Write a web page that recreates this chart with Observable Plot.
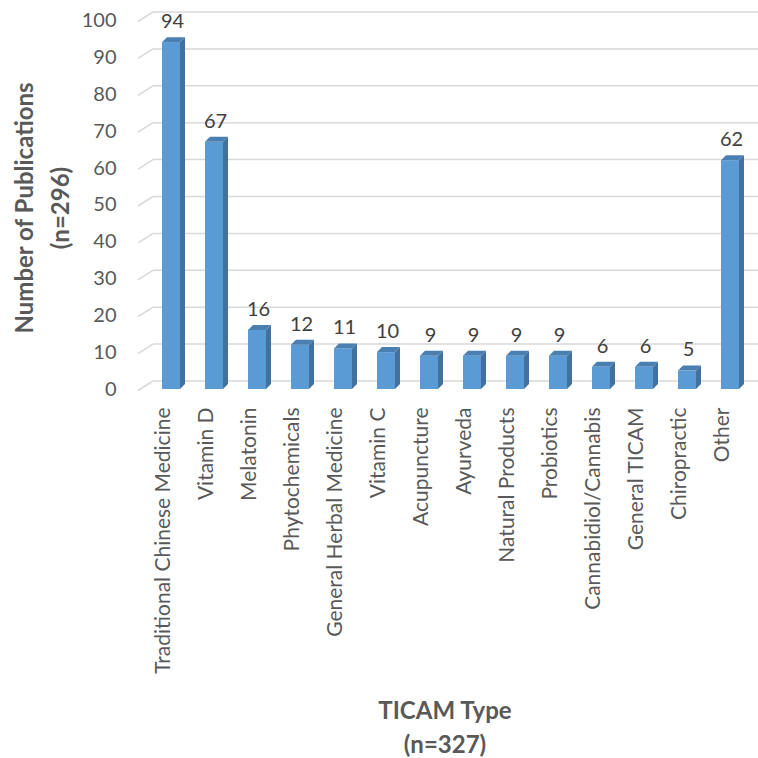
<!DOCTYPE html>
<html>
<head>
<meta charset="utf-8">
<script src="https://cdn.jsdelivr.net/npm/d3@7"></script>
<script src="https://cdn.jsdelivr.net/npm/@observablehq/plot@0.6"></script>
<style>
  html, body { margin: 0; padding: 0; background: #fff; }
  #chart svg { display: block; }
</style>
</head>
<body>
<div id="chart"></div>
<script>
const categories = [
  "Traditional Chinese Medicine", "Vitamin D", "Melatonin", "Phytochemicals",
  "General Herbal Medicine", "Vitamin C", "Acupuncture", "Ayurveda",
  "Natural Products", "Probiotics", "Cannabidiol/Cannabis", "General TICAM",
  "Chiropractic", "Other"
];
const publications = [94, 67, 16, 12, 11, 10, 9, 9, 9, 9, 6, 6, 5, 62];
const yTicks = [0, 10, 20, 30, 40, 50, 60, 70, 80, 90, 100];
const yTitle = ["Number of Publications", "(n=296)"];
const xTitle = ["TICAM Type", "(n=327)"];

const data = categories.map((c, i) => ({category: c, value: publications[i]}));

const FONT = "Lato, 'Open Sans', sans-serif";
const depth = 5;

function barRender(index, scales, values, dimensions, context, next) {
  const g = next(index, scales, values, dimensions, context);
  const rects = Array.from(g.querySelectorAll("rect"));
  const ns = "http://www.w3.org/2000/svg";
  for (const r of rects) {
    const x = +r.getAttribute("x"), y = +r.getAttribute("y");
    const w = +r.getAttribute("width"), h = +r.getAttribute("height");
    const side = document.createElementNS(ns, "polygon");
    side.setAttribute("points", `${x + w},${y + h} ${x + w + depth},${y + h - depth} ${x + w + depth},${y - depth} ${x + w},${y}`);
    side.setAttribute("fill", "#41719c");
    const top = document.createElementNS(ns, "polygon");
    top.setAttribute("points", `${x},${y} ${x + depth},${y - depth} ${x + w + depth},${y - depth} ${x + w},${y}`);
    top.setAttribute("fill", "#4a7fb2");
    g.appendChild(side);
    g.appendChild(top);
  }
  return g;
}

function gridRender(index, scales, values, dimensions, context, next) {
  const g = next(index, scales, values, dimensions, context);
  const ns = "http://www.w3.org/2000/svg";
  const lines = Array.from(g.querySelectorAll("line"));
  for (const l of lines) {
    const x1 = +l.getAttribute("x1");
    const y = +l.getAttribute("y1");
    const back = y - 8.5;
    l.setAttribute("x1", x1 + 10);
    l.setAttribute("y1", back);
    l.setAttribute("y2", back);
    const diag = document.createElementNS(ns, "line");
    diag.setAttribute("x1", x1 - 5);
    diag.setAttribute("y1", y + 1);
    diag.setAttribute("x2", x1 + 10);
    diag.setAttribute("y2", back);
    g.appendChild(diag);
  }
  return g;
}

const plot = Plot.plot({
  width: 758,
  height: 758,
  marginTop: 20,
  marginBottom: 369,
  marginLeft: 143,
  marginRight: 0,
  style: {fontFamily: FONT, background: "#fff"},
  x: {domain: categories, paddingInner: 0.59, paddingOuter: 0.295, label: null},
  y: {domain: [0, 100], nice: false, label: null},
  marks: [
    Plot.ruleY(yTicks, {y: d => d, stroke: "#d9d9d9", strokeWidth: 1.5, render: gridRender}),
    Plot.axisY({ticks: yTicks, tickSize: 0, tickPadding: 27, fontSize: 20, fill: "#595959", label: null}),
    Plot.axisX({tickSize: 0, tickRotate: -90, tickPadding: 18, fontSize: 21, fill: "#595959", dx: -8, label: null}),
    Plot.barY(data, {x: "category", y: "value", fill: "#5b9bd5", render: barRender}),
    Plot.text(data, {x: "category", y: "value", text: d => String(d.value), dy: -21, dx: 1, fontSize: 20, fill: "#404040"}),
    Plot.text([yTitle[0]], {frameAnchor: "left", textAnchor: "middle", dx: -118, dy: 3, rotate: -90, fontSize: 24, fontWeight: "bold", fill: "#595959"}),
    Plot.text([yTitle[1]], {frameAnchor: "left", textAnchor: "middle", dx: -82, dy: 3, rotate: -90, fontSize: 24, fontWeight: "bold", fill: "#595959"}),
    Plot.text([xTitle[0]], {frameAnchor: "bottom", dx: -6, dy: 329, fontSize: 24, fontWeight: "bold", fill: "#595959"}),
    Plot.text([xTitle[1]], {frameAnchor: "bottom", dx: -6, dy: 363, fontSize: 24, fontWeight: "bold", fill: "#595959"})
  ]
});
document.getElementById("chart").appendChild(plot);
</script>
</body>
</html>
